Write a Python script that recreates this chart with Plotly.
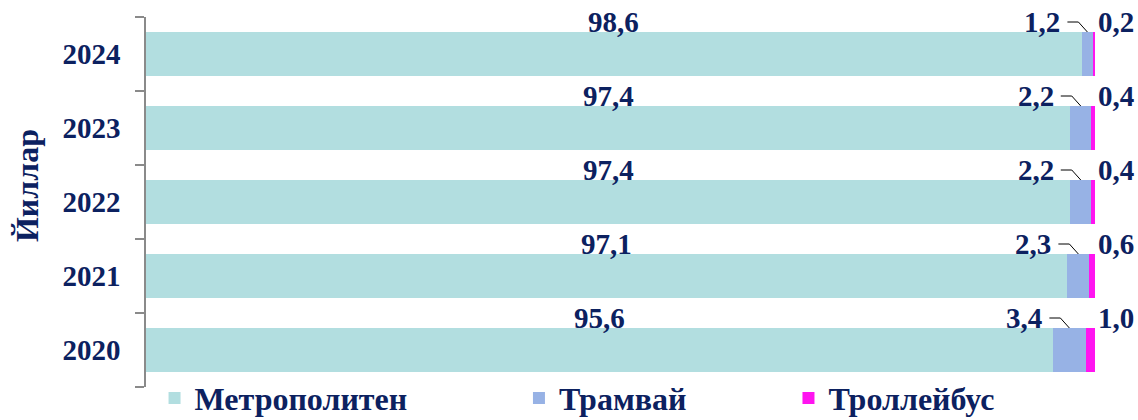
import plotly.graph_objects as go

years = ["2020", "2021", "2022", "2023", "2024"]
metro = [95.6, 97.1, 97.4, 97.4, 98.6]
tram = [3.4, 2.3, 2.2, 2.2, 1.2]
trolley = [1.0, 0.6, 0.4, 0.4, 0.2]
metro_labels = ["95,6", "97,1", "97,4", "97,4", "98,6"]
tram_labels = ["3,4", "2,3", "2,2", "2,2", "1,2"]
trolley_labels = ["1,0", "0,6", "0,4", "0,4", "0,2"]
series_names = ["Метрополитен", "Трамвай", "Троллейбус"]
axis_title = "Йиллар"

C_METRO = "#b2dee0"
C_TRAM = "#97b2e5"
C_TROL = "#ff14f0"
TXT = "#0c2160"
FONT = "Liberation Serif"

fig = go.Figure()
fig.add_trace(go.Bar(y=years, x=metro, orientation="h", name=series_names[0],
                     marker=dict(color=C_METRO, line=dict(width=0)), legend="legend"))
fig.add_trace(go.Bar(y=years, x=tram, orientation="h", name=series_names[1],
                     marker=dict(color=C_TRAM, line=dict(width=0)), legend="legend2"))
fig.add_trace(go.Bar(y=years, x=trolley, orientation="h", name=series_names[2],
                     marker=dict(color=C_TROL, line=dict(width=0)), legend="legend3"))

lab_font = dict(family=FONT, size=29, color=TXT, weight="bold")
annotations = []
shapes = []
for i, yr in enumerate(years):
    annotations.append(dict(x=metro[i] / 2, y=i, text=metro_labels[i], showarrow=False,
                            xref="x", yref="y", yshift=32, font=lab_font))
    tmid = metro[i] + tram[i] / 2
    annotations.append(dict(x=tmid, y=i, text=tram_labels[i], showarrow=False,
                            xref="x", yref="y", xanchor="right", xshift=-25, yshift=32,
                            font=lab_font))
    annotations.append(dict(x=100, y=i, text=trolley_labels[i], showarrow=False,
                            xref="x", yref="y", xanchor="left", xshift=1, yshift=32,
                            font=lab_font))
    shapes.append(dict(type="path", xref="x", yref="y", xsizemode="pixel", ysizemode="pixel",
                       xanchor=tmid, yanchor=i,
                       path="M -20,32 L -9,32 L 0,22",
                       line=dict(color="#000000", width=1)))

# axis title as a rotated annotation
annotations.append(dict(x=0, y=0.543, xref="paper", yref="paper", xshift=-119,
                        text=axis_title, textangle=-90, showarrow=False,
                        xanchor="center", yanchor="middle",
                        font=dict(family=FONT, size=32, color=TXT, weight="bold")))

legend_common = dict(orientation="h", yanchor="middle", y=-0.03, xanchor="left",
                     font=dict(family=FONT, size=32, color=TXT, weight="bold"),
                     bgcolor="rgba(0,0,0,0)", itemwidth=30, tracegroupgap=0)

fig.update_layout(
    barmode="stack",
    bargap=0.4,
    width=1138, height=420,
    margin=dict(l=146, r=43, t=17, b=33, autoexpand=False),
    paper_bgcolor="white", plot_bgcolor="white",
    font=dict(family=FONT, color=TXT),
    showlegend=True,
    legend=dict(legend_common, x=0.009),
    legend2=dict(legend_common, x=0.393),
    legend3=dict(legend_common, x=0.677),
    annotations=annotations,
    shapes=shapes,
)
fig.update_xaxes(range=[0, 100], visible=False, showgrid=False, zeroline=False)
fig.update_yaxes(type="category", categoryorder="array", categoryarray=years,
                 range=[-0.5, 4.5], showgrid=False, zeroline=False,
                 showline=True, linecolor="#8a8a8a", linewidth=1.5,
                 ticks="outside", tickson="boundaries", ticklen=9, tickcolor="#8a8a8a",
                 tickwidth=1.5, ticklabelstandoff=18,
                 tickfont=dict(family=FONT, size=29, color=TXT, weight="bold"),
                 automargin=False)

fig.write_html("out.html", config={"displayModeBar": False},
               post_script="document.body.style.margin='0';document.body.style.overflow='hidden';")
